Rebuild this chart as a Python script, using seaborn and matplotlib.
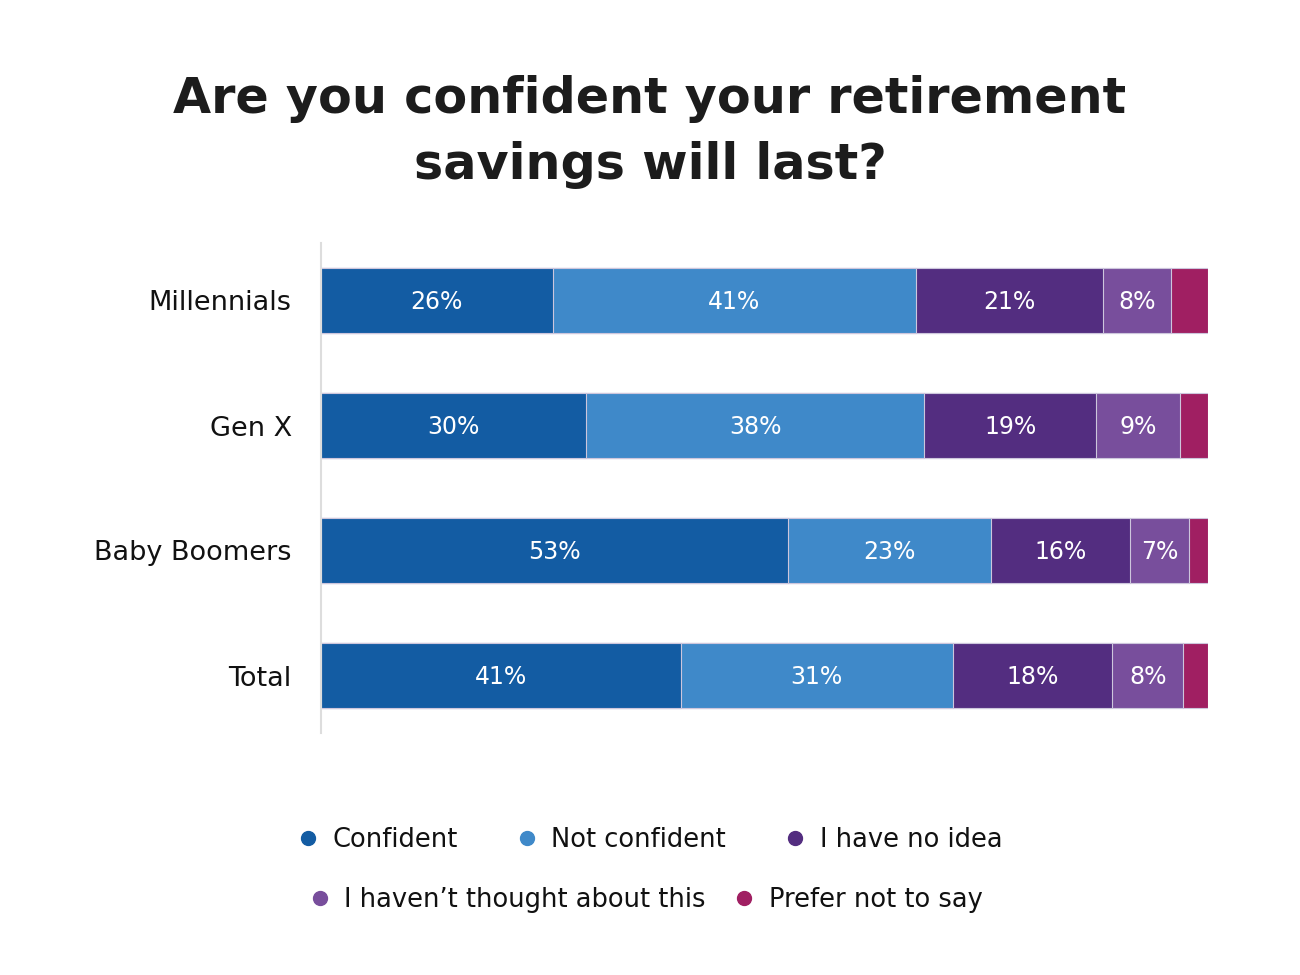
import matplotlib
matplotlib.use("Agg")
import matplotlib.pyplot as plt
import seaborn as sns
import pandas as pd
from matplotlib.lines import Line2D

# ---- data (percent shares) ----
groups = ["Millennials", "Gen X", "Baby Boomers", "Total"]
categories = ["Confident", "Not confident", "I have no idea",
              "I haven\u2019t thought about this", "Prefer not to say"]
confident = [26.1, 29.9, 52.6, 40.6]
not_confident = [41.0, 38.1, 22.9, 30.6]
no_idea = [21.1, 19.4, 15.7, 18.0]
not_thought = [7.6, 9.4, 6.7, 8.0]
prefer_not = [4.2, 3.2, 2.1, 2.8]
colors = ["#135CA3", "#3F89C9", "#532D80", "#784E9C", "#A01F62"]
show_label = [True, True, True, True, False]

sns.set_theme(style="white")
plt.rcParams['font.family'] = ['DejaVu Sans']

series = [confident, not_confident, no_idea, not_thought, prefer_not]
df = pd.DataFrame({c: s for c, s in zip(categories, series)}, index=groups)
cum = df.cumsum(axis=1)

fig = plt.figure(figsize=(13, 9.75), dpi=100)
ax = fig.add_axes([321 / 1300, 1 - 733 / 975, 887 / 1300, 490 / 975])

# stacked bars: draw cumulative layers from the longest to the shortest
for cat, col in reversed(list(zip(categories, colors))):
    d = pd.DataFrame({"group": groups, "value": cum[cat].values})
    sns.barplot(data=d, y="group", x="value", color=col, orient="h",
                width=0.52, ax=ax, edgecolor="#cdc6dc", linewidth=0.8,
                saturation=1)

# segment labels
for cat, show in zip(categories, show_label):
    if not show:
        continue
    for i, g in enumerate(groups):
        v = df.loc[g, cat]
        c = cum.loc[g, cat]
        ax.text(c - v / 2, i + 0.01, f"{round(v):.0f}%", ha="center", va="center",
                color="white", fontsize=17)

ax.set_xlim(0, 100)
ax.set_ylim(3.46, -0.46)
ax.set_xlabel("")
ax.set_ylabel("")
ax.set_xticks([])
for s in ["top", "right", "bottom"]:
    ax.spines[s].set_visible(False)
ax.spines["left"].set_color("#dddddd")
ax.spines["left"].set_linewidth(1.5)
ax.tick_params(axis="y", length=0, pad=21, labelsize=19.5, labelcolor="#111111")

# title
fig.text(0.5, 1 - 113 / 975, "Are you confident your retirement",
         ha="center", va="baseline", fontsize=35.5, fontweight="bold", color="#1c1c1c")
fig.text(0.5, 1 - 179 / 975, "savings will last?",
         ha="center", va="baseline", fontsize=35.5, fontweight="bold", color="#1c1c1c")

# legend in two centred rows
handles = [Line2D([0], [0], marker="o", linestyle="none", markersize=10,
                  markerfacecolor=c, markeredgecolor=c, label=l)
           for c, l in zip(colors, categories)]
kw = dict(frameon=False, fontsize=18.5, handlelength=0.8, handletextpad=0.55,
          labelcolor="#111111", loc="center")
leg1 = fig.legend(handles=handles[:3], ncol=3, columnspacing=2.3,
                  bbox_to_anchor=(0.5, 1 - 840 / 975), **kw)
leg2 = fig.legend(handles=handles[3:], ncol=2, columnspacing=1.1,
                  bbox_to_anchor=(0.497, 1 - 900 / 975), **kw)

fig.savefig("out.png", dpi=100, facecolor="white")
